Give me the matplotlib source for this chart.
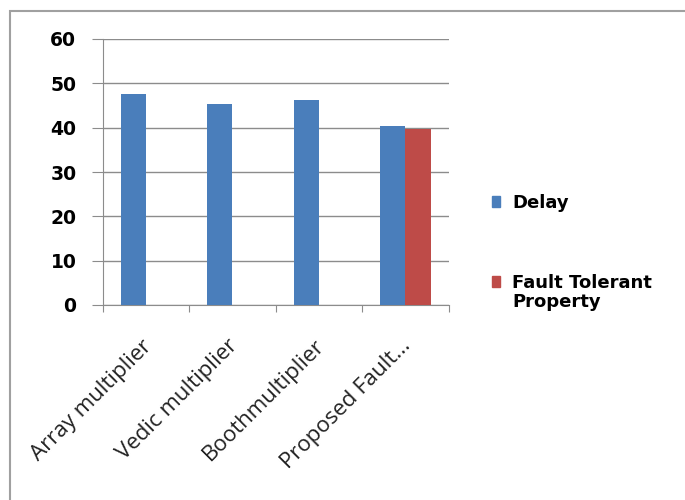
import numpy as np
import matplotlib.pyplot as plt
import matplotlib.transforms as mtransforms
from matplotlib.patches import Rectangle

categories = ['Array multiplier', 'Vedic multiplier', 'Boothmultiplier', 'Proposed Fault...']
delay = [47.6, 45.3, 46.2, 40.4]
fault_tolerant = [0, 0, 0, 39.8]
series_names = ['Delay', 'Fault Tolerant\nProperty']

blue = '#4a7ebb'
red = '#be4b48'

fig = plt.figure(figsize=(6.85, 5.0), dpi=100)
ax = fig.add_axes([0.150, 0.39, 0.505, 0.532])

x = np.arange(len(categories))
w = 0.29
ax.bar(x - w / 2, delay, w, color=blue, zorder=3)
ax.bar(x + w / 2, fault_tolerant, w, color=red, zorder=3)

ax.set_xlim(-0.5, len(categories) - 0.5)
ax.set_ylim(0, 60)
ax.set_yticks(range(0, 61, 10))
ax.yaxis.grid(True, color='#8c8c8c', linewidth=1.0, zorder=0)
ax.set_axisbelow(True)

for s in ['top', 'right']:
    ax.spines[s].set_visible(False)
ax.spines['left'].set_color('#8c8c8c')
ax.spines['bottom'].set_color('#8c8c8c')

ax.tick_params(axis='y', length=8, color='#8c8c8c', pad=11, labelsize=13.5)
for lab in ax.get_yticklabels():
    lab.set_fontweight('bold')

# category labels between boundary ticks
ax.set_xticks(np.arange(-0.5, len(categories), 1.0))
ax.set_xticklabels([])
ax.tick_params(axis='x', length=5, color='#8c8c8c')
ax.set_xticks(x, minor=True)
ax.set_xticklabels(categories, minor=True, rotation=45, ha='right',
                   rotation_mode='anchor', fontsize=16, family='Open Sans', color='#222222')
ax.tick_params(axis='x', which='minor', length=0, pad=22)
shift = mtransforms.ScaledTranslation(-0.05, 0, fig.dpi_scale_trans)
for lab in ax.get_xticklabels(minor=True):
    lab.set_transform(lab.get_transform() + shift)

# legend drawn at the right, Excel style
legend_y = [0.598, 0.438]
for name, col, ly in zip(series_names, [blue, red], legend_y):
    fig.add_artist(Rectangle((492 / 685, ly - 0.011), 8 / 685, 0.022,
                             transform=fig.transFigure, color=col))
    fig.text(512 / 685, ly + 0.015, name, va='top', ha='left',
             fontsize=13, fontweight='bold', linespacing=1.1)

fig.patches.append(Rectangle((10 / 685, -0.1), 1.2, 1 - 11 / 500 + 0.1,
                             transform=fig.transFigure, fill=False,
                             edgecolor='#a0a0a0', linewidth=1.5))

fig.savefig('out.png', dpi=100)
